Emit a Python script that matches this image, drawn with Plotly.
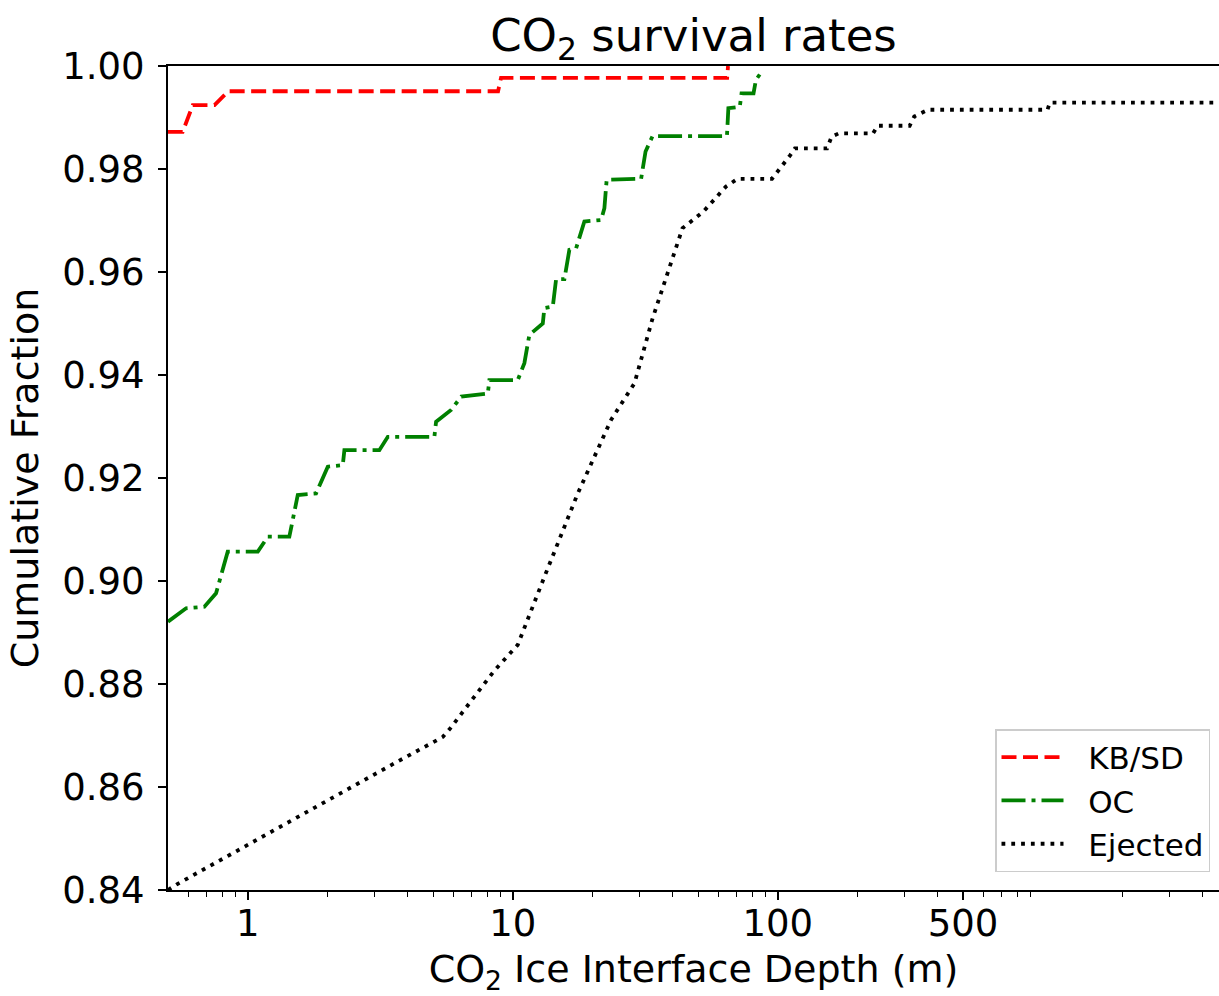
import math
import plotly.graph_objects as go

# ---- data ----
kbsd_depth = [0.5, 0.568, 0.620, 0.749, 0.844, 8.80, 9.03, 64.4, 64.9]
kbsd_frac = [0.9872, 0.9872, 0.9924, 0.9924, 0.9951, 0.9951, 0.9977, 0.9977, 1.0]

oc_depth = [0.5, 0.585, 0.686, 0.759, 0.840, 1.091, 1.190, 1.435, 1.544, 1.81,
            2.004, 2.283, 2.315, 3.137, 3.376, 5.06, 5.135, 5.85, 6.39, 8.05,
            8.16, 10.44, 11.06, 11.55, 12.98, 13.16, 14.16, 14.57, 15.66, 16.35,
            17.34, 18.63, 21.54, 22.17, 22.61, 30.5, 31.7, 33.7, 64.3, 65.1,
            71.9, 73.0, 81.0, 82.7, 87.8]
oc_frac = [0.8921, 0.8947, 0.8950, 0.8976, 0.9057, 0.9057, 0.9086, 0.9086, 0.9167, 0.9170,
           0.9222, 0.9225, 0.9254, 0.9254, 0.9280, 0.9280, 0.9309, 0.9332, 0.9358, 0.9364,
           0.9390, 0.9390, 0.9423, 0.9478, 0.9500, 0.9530, 0.9533, 0.9586, 0.9586, 0.9643,
           0.9646, 0.9698, 0.9701, 0.9724, 0.9779, 0.9781, 0.9834, 0.9864, 0.9864, 0.9918,
           0.9921, 0.9947, 0.9947, 0.9973, 0.9992]

ej_depth = [0.5, 0.544, 0.971, 2.004, 3.574, 5.44, 5.77, 8.52, 10.44, 13.16,
            17.59, 23.5, 28.8, 33.7, 39.5, 43.7, 52.3, 63.8, 70.5, 95.1,
            111.5, 116.0, 153.5, 159.7, 169.6, 228.7, 238.0, 314.6, 327.4, 369.0,
            1042.0, 1063.0, 6000.0]
ej_frac = [0.8400, 0.8412, 0.8484, 0.8575, 0.8646, 0.8697, 0.8712, 0.8826, 0.8876, 0.9008,
           0.9170, 0.9313, 0.9384, 0.9510, 0.9620, 0.9685, 0.9717, 0.9766, 0.9781, 0.9781,
           0.9827, 0.9840, 0.9840, 0.9863, 0.9869, 0.9869, 0.9884, 0.9884, 0.9902, 0.9915,
           0.9915, 0.9929, 0.9929]

series_names = ["KB/SD", "OC", "Ejected"]

x_tickvals = [1, 10, 100, 500]
x_ticktext = ["1", "10", "100", "500"]
x_minor = [0.6, 0.7, 0.8, 0.9, 2, 3, 4, 5, 6, 7, 8, 9, 20, 30, 40, 50, 60, 70, 80, 90,
           200, 300, 400, 600, 700, 800, 900, 2000, 3000, 4000]
y_tickvals = [0.84, 0.86, 0.88, 0.90, 0.92, 0.94, 0.96, 0.98, 1.00]

FONT = "DejaVu Sans"
LW = 3.8
PAD = "\u00a0\u00a0"

fig = go.Figure()
fig.add_trace(go.Scatter(x=kbsd_depth, y=kbsd_frac, mode="lines", name=PAD + series_names[0],
                         legendgroup="a",
                         line=dict(color="#ff0000", width=LW, dash="15px,6.5px")))
fig.add_trace(go.Scatter(x=oc_depth, y=oc_frac, mode="lines", name=PAD + series_names[1],
                         legendgroup="b",
                         line=dict(color="#008000", width=LW, dash="24px,6px,4px,6px")))
fig.add_trace(go.Scatter(x=ej_depth, y=ej_frac, mode="lines", name=PAD + series_names[2],
                         legendgroup="c",
                         line=dict(color="#000000", width=LW, dash="3.8px,6px")))

L, R, T, B = 168, 0, 66, 106
W, H = 1219, 996
plot_w = W - L - R
dec_px = 265.0
xmin = math.log10(0.5)
xmax = xmin + plot_w / dec_px

fig.update_layout(
    width=W, height=H,
    margin=dict(l=L, r=R, t=T, b=B, autoexpand=False),
    paper_bgcolor="white", plot_bgcolor="white",
    font=dict(family=FONT, color="black", size=37),
    title=dict(text="CO<sub>2</sub> survival rates", x=(L + (W - R)) / 2 / W, xanchor="center",
               y=1 - 35 / H, yanchor="middle", yref="container",
               font=dict(size=45, family=FONT, color="black")),
    showlegend=True,
    legend=dict(x=(1210 - L) / plot_w, y=(890 - 872) / (890 - 66), xanchor="right", yanchor="bottom",
                bgcolor="white", bordercolor="#cccccc", borderwidth=1.5,
                font=dict(size=31, family=FONT, color="black"),
                itemwidth=62,
                tracegroupgap=11, traceorder="normal"),
    xaxis=dict(type="log", range=[xmin, xmax], showgrid=False, zeroline=False,
               showline=True, linecolor="black", linewidth=2, mirror=True,
               ticks="outside", ticklen=8, tickwidth=1.5, tickcolor="black",
               tickmode="array", tickvals=x_tickvals, ticktext=x_ticktext,
               ticklabelstandoff=-8,
               tickfont=dict(size=37, family=FONT, color="black"),
               minor=dict(tickmode="array", tickvals=x_minor, ticks="outside",
                          ticklen=5, tickwidth=1.2, tickcolor="black", showgrid=False),
               title=dict(text="CO<sub>2</sub> Ice Interface Depth (m)", standoff=34,
                          font=dict(size=38, family=FONT, color="black"))),
    yaxis=dict(range=[0.84, 1.0], showgrid=False, zeroline=False,
               showline=True, linecolor="black", linewidth=2, mirror=False,
               ticks="outside", ticklen=8, tickwidth=1.5, tickcolor="black",
               tickmode="array", tickvals=y_tickvals, tickformat=".2f",
               ticklabelstandoff=6,
               tickfont=dict(size=37, family=FONT, color="black"),
               title=dict(text="Cumulative Fraction", standoff=12,
                          font=dict(size=38, family=FONT, color="black"))),
)

fig.write_html("out.html")
